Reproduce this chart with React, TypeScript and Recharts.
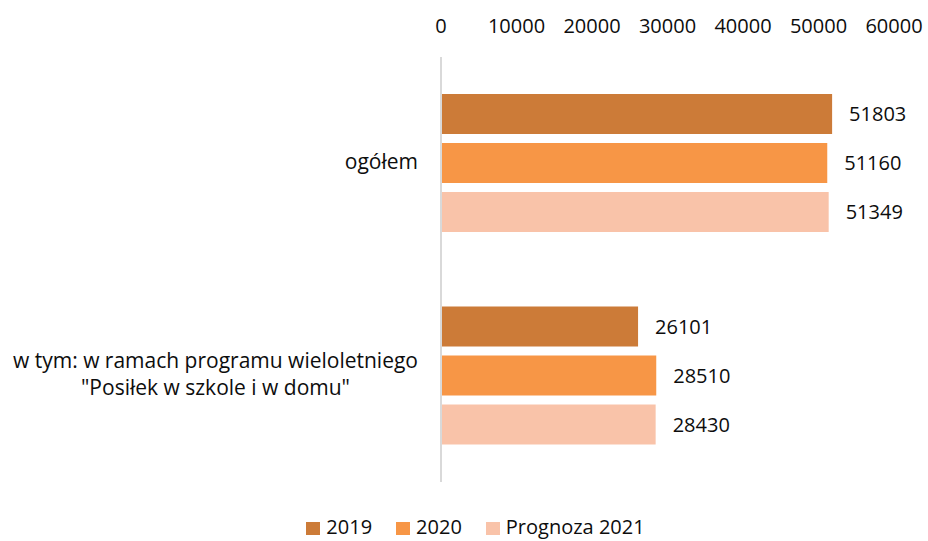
import React from 'react';
import {
  BarChart,
  Bar,
  XAxis,
  YAxis,
  Legend,
  LabelList,
} from 'recharts';

// categories (line break kept as in the original wrapped label)
const categories = [
  'ogółem',
  'w tym: w ramach programu wieloletniego\n"Posiłek w szkole i w domu"',
];

const values2019 = [51803, 26101];
const values2020 = [51160, 28510];
const values2021 = [51349, 28430];

const xTicks = [0, 10000, 20000, 30000, 40000, 50000, 60000];

const seriesNames = ['2019', '2020', 'Prognoza 2021'];
const seriesColors = ['#CC7B38', '#F79646', '#F9C3A9'];

const FONT = '"Open Sans", sans-serif';
const FONT_SIZE = 20;
const CAT_FONT_SIZE = 21;

const chartData = categories.map((name, i) => ({
  name,
  s2019: values2019[i],
  s2020: values2020[i],
  s2021: values2021[i],
}));

let measureCtx: CanvasRenderingContext2D | null = null;
const measure = (text: string) => {
  if (!measureCtx) {
    const c = document.createElement('canvas');
    measureCtx = c.getContext('2d');
  }
  if (!measureCtx) return text.length * CAT_FONT_SIZE * 0.53;
  measureCtx.font = `${CAT_FONT_SIZE}px "Open Sans"`;
  return measureCtx.measureText(text).width;
};

// wrapped category label: block right-aligned to the tick, lines centred inside it
const CategoryTick = (props: any) => {
  const { x, y, payload } = props;
  const lines = String(payload.value).split('\n');
  const maxW = Math.max(...lines.map(measure));
  const cx = x - maxW / 2;
  const lineH = 27;
  return (
    <text
      textAnchor="middle"
      fontFamily={FONT}
      fontSize={CAT_FONT_SIZE}
      fill="#0d0d0d"
    >
      {lines.map((line, i) => (
        <tspan key={i} x={cx} y={y + 6 + (i - (lines.length - 1) / 2) * lineH}>
          {line}
        </tspan>
      ))}
    </text>
  );
};

const renderLegend = () => (
  <div
    style={{
      display: 'flex',
      justifyContent: 'center',
      alignItems: 'center',
      height: 20,
      paddingLeft: 23,
      fontFamily: FONT,
      fontSize: FONT_SIZE,
      lineHeight: '20px',
      color: '#0d0d0d',
    }}
  >
    {seriesNames.map((name, i) => (
      <div
        key={name}
        style={{ display: 'flex', alignItems: 'center', marginLeft: i === 0 ? 0 : 24 }}
      >
        <span
          style={{
            width: 14,
            height: 13,
            marginTop: 3,
            backgroundColor: seriesColors[i],
            marginRight: 6,
            display: 'inline-block',
          }}
        />
        <span>{name}</span>
      </div>
    ))}
  </div>
);

const dataKeys = ['s2019', 's2020', 's2021'];

export default function App() {
  return (
    <div style={{ width: 928, height: 541, background: '#fff' }}>
      <style>{'body{margin:0}'}</style>
      <BarChart
        width={928}
        height={541}
        data={chartData}
        layout="vertical"
        margin={{ top: 0, right: 34, bottom: 39, left: 0 }}
        barSize={40}
        barGap={9}
      >
        <XAxis
          type="number"
          orientation="top"
          domain={[0, 60000]}
          ticks={xTicks}
          interval={0}
          height={57}
          axisLine={false}
          tickLine={false}
          tickSize={0}
          tickMargin={24}
          tick={{ fontFamily: FONT, fontSize: FONT_SIZE, fill: '#0d0d0d' }}
        />
        <YAxis
          type="category"
          dataKey="name"
          width={441}
          axisLine={{ stroke: '#D9D9D9', strokeWidth: 2 }}
          tickLine={false}
          tickSize={0}
          tickMargin={23}
          tick={<CategoryTick />}
          interval={0}
        />
        <Legend
          verticalAlign="bottom"
          content={renderLegend}
          wrapperStyle={{ left: 0, bottom: 4, width: 928 }}
        />
        {dataKeys.map((key, i) => (
          <Bar
            key={key}
            dataKey={key}
            name={seriesNames[i]}
            fill={seriesColors[i]}
            isAnimationActive={false}
          >
            <LabelList
              dataKey={key}
              position="right"
              offset={17}
              fontFamily={FONT}
              fontSize={FONT_SIZE}
              fill="#0d0d0d"
            />
          </Bar>
        ))}
      </BarChart>
    </div>
  );
}
